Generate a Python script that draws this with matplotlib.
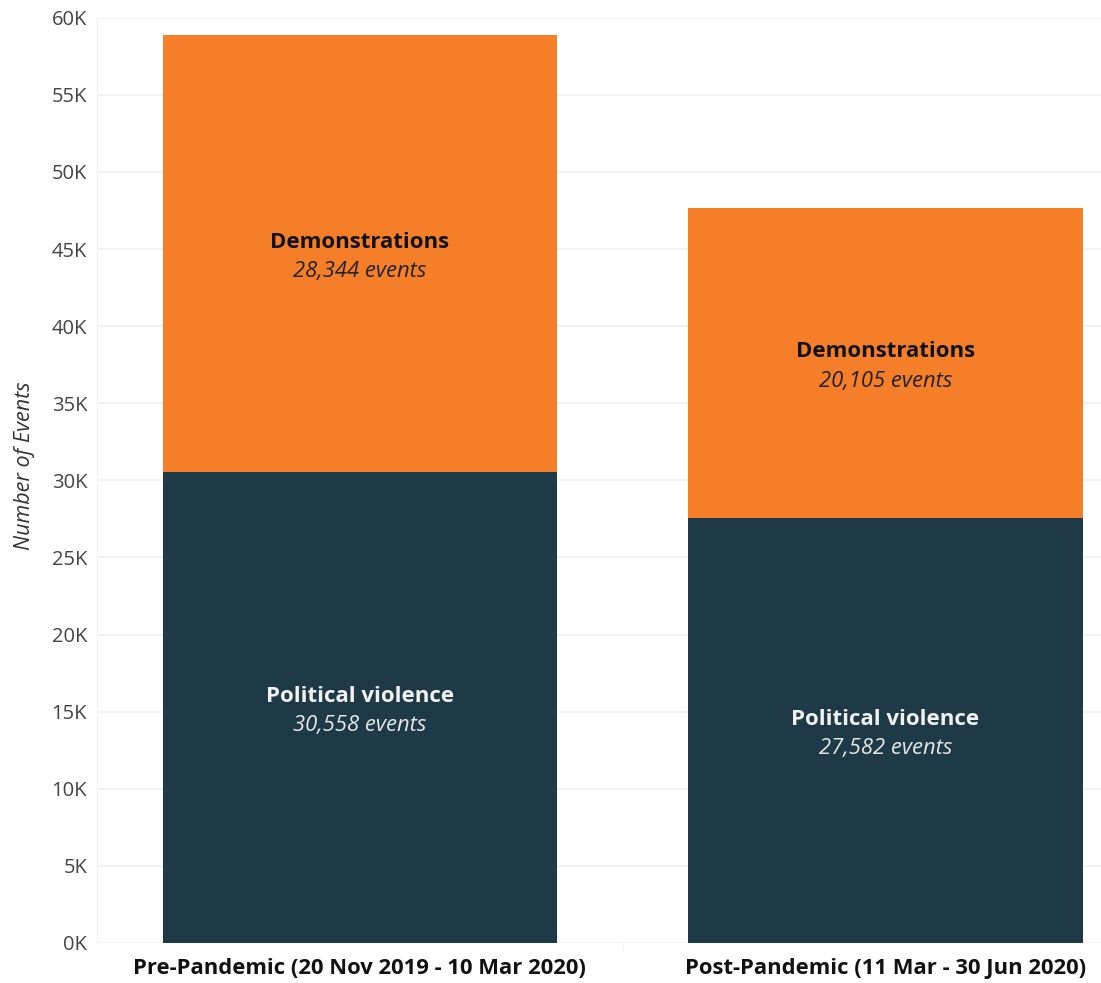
import numpy as np
import matplotlib.pyplot as plt
from matplotlib.ticker import FuncFormatter

plt.rcParams['font.family'] = ['Open Sans', 'DejaVu Sans']

periods = ["Pre-Pandemic (20 Nov 2019 - 10 Mar 2020)", "Post-Pandemic (11 Mar - 30 Jun 2020)"]
political_violence = [30558, 27582]
demonstrations = [28344, 20105]

dark = "#1e3a47"
orange = "#f57f29"

fig = plt.figure(figsize=(11.01, 9.83), dpi=100)
ax = fig.add_axes([0.088, 0.0407, 0.912, 0.9413])

x = np.arange(len(periods))
w = 0.75
ax.bar(x, political_violence, width=w, color=dark, zorder=2)
ax.bar(x, demonstrations, width=w, bottom=political_violence, color=orange, zorder=2)

off = 950
shift = -250
for i in range(len(periods)):
    pv = political_violence[i]
    dm = demonstrations[i]
    ymid = pv / 2 + shift
    ax.text(x[i], ymid + off, "Political violence", ha="center", va="center",
            fontsize=16, fontweight="bold", color="#f2f2f2")
    ax.text(x[i], ymid - off, f"{pv:,} events", ha="center", va="center",
            fontsize=15.8, style="italic", color="#e6e6e6")
    ymid = pv + dm / 2 + shift
    ax.text(x[i], ymid + off, "Demonstrations", ha="center", va="center",
            fontsize=16, fontweight="bold", color="#111111")
    ax.text(x[i], ymid - off, f"{dm:,} events", ha="center", va="center",
            fontsize=15.8, style="italic", color="#222222")

ax.set_xlim(-0.5, 1.41)
ax.set_ylim(0, 60000)
ax.set_yticks(np.arange(0, 60001, 5000))
ax.yaxis.set_major_formatter(FuncFormatter(lambda v, p: f"{int(v/1000)}K"))
ax.set_xticks(x)
ax.set_xticklabels(periods, fontsize=15.8, fontweight="bold", color="#111111")
ax.set_xticks([0.5], minor=True)
ax.tick_params(axis="x", which="major", length=0, pad=11)
ax.tick_params(axis="x", which="minor", length=5, color="#eeeeee")
ax.tick_params(axis="y", length=0, labelsize=14.5, labelcolor="#444444", pad=7)
ax.set_ylabel("Number of Events", fontsize=15.5, style="italic", color="#333333")
ax.yaxis.set_label_coords(-0.062, 0.516)

ax.grid(axis="y", color="#f0f0f0", linewidth=1.2, zorder=0)
for s in ["top", "right", "bottom"]:
    ax.spines[s].set_visible(False)
ax.spines["left"].set_color("#f2f2f2")

fig.savefig("out.png", dpi=100)
